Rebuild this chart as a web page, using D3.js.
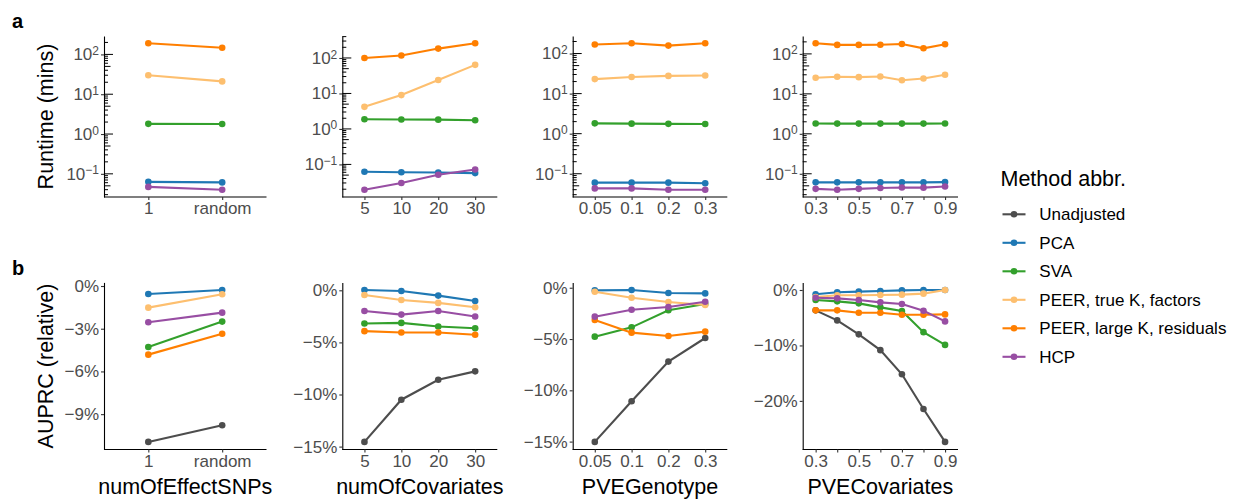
<!DOCTYPE html>
<html>
<head>
<meta charset="utf-8">
<script src="https://cdn.jsdelivr.net/npm/d3@7.9.0/dist/d3.min.js"></script>
<style>
  body { margin: 0; background: #fff; }
  svg { display: block; font-family: "Liberation Sans", Arial, sans-serif; }
</style>
</head>
<body>
<svg id="chart" width="1234" height="499"></svg>
<script>
// methods in factor order (also draw order)
const methods = ['Unadjusted', 'PCA', 'SVA', 'PEER, true K, factors', 'PEER, large K, residuals', 'HCP'];
const methodColors = ['#4d4d4d', '#1f78b4', '#33a02c', '#fdbf6f', '#ff7f00', '#984ea3'];

// x levels per panel
const effectSNPsLevels = ['1', 'random'];
const covariatesLevels = ['5', '10', '20', '30'];
const pveGenotypeLevels = ['0.05', '0.1', '0.2', '0.3'];
const pveCovariatesLevels = ['0.3', '0.4', '0.5', '0.6', '0.7', '0.8', '0.9'];
const pveCovariatesLabels = ['0.3', '', '0.5', '', '0.7', '', '0.9'];

// runtime in minutes (Unadjusted has no runtime)
const runtimeEffectSNPs = [
  null,
  [0.063, 0.061],
  [1.80, 1.78],
  [30, 21],
  [190, 147],
  [0.047, 0.040]
];
const runtimeCovariates = [
  null,
  [0.062, 0.060, 0.059, 0.057],
  [1.87, 1.85, 1.83, 1.75],
  [4.2, 9.0, 24, 64],
  [100, 117, 184, 259],
  [0.0194, 0.030, 0.051, 0.072]
];
const runtimePVEGenotype = [
  null,
  [0.060, 0.060, 0.060, 0.058],
  [1.81, 1.78, 1.76, 1.74],
  [23, 26, 27.7, 28.4],
  [168, 180, 158, 180],
  [0.043, 0.043, 0.040, 0.040]
];
const runtimePVECovariates = [
  null,
  [0.061, 0.061, 0.061, 0.061, 0.061, 0.061, 0.062],
  [1.81, 1.80, 1.80, 1.80, 1.80, 1.80, 1.81],
  [25.3, 26.8, 26.2, 27.2, 22, 24.3, 30],
  [184, 168, 168, 170, 177, 138, 174],
  [0.042, 0.040, 0.042, 0.044, 0.0455, 0.045, 0.048]
];

// relative AUPRC in percent
const auprcEffectSNPs = [
  [-10.95, -9.78],
  [-0.56, -0.28],
  [-4.28, -2.5],
  [-1.52, -0.58],
  [-4.82, -3.35],
  [-2.55, -1.87]
];
const auprcCovariates = [
  [-14.55, -10.5, -8.58, -7.78],
  [0.03, -0.07, -0.51, -1.02],
  [-3.19, -3.13, -3.48, -3.64],
  [-0.45, -0.93, -1.21, -1.63],
  [-3.92, -4.05, -4.05, -4.27],
  [-1.98, -2.33, -1.98, -2.52]
];
const auprcPVEGenotype = [
  [-15.03, -11.06, -7.2, -4.9],
  [-0.26, -0.22, -0.52, -0.55],
  [-4.77, -3.86, -2.2, -1.59],
  [-0.39, -0.97, -1.39, -1.68],
  [-3.15, -4.38, -4.7, -4.28],
  [-2.82, -2.14, -1.88, -1.36]
];
const auprcPVECovariates = [
  [-3.67, -5.48, -8.0, -10.85, -15.2, -21.46, -27.4],
  [-0.78, -0.42, -0.3, -0.18, -0.06, 0, 0],
  [-1.81, -2.05, -2.41, -3.13, -3.8, -7.6, -9.9],
  [-1.27, -0.96, -0.96, -0.9, -0.84, -0.66, 0],
  [-3.67, -3.67, -4.1, -4.1, -4.46, -4.46, -4.4],
  [-1.39, -1.51, -1.81, -2.23, -2.53, -3.74, -5.66]
];

const runtimeTicks = [0.1, 1, 10, 100];
const auprcTicks = [[0, -3, -6, -9], [0, -5, -10, -15], [0, -5, -10, -15], [0, -10, -20]];
const xTitles = ['numOfEffectSNPs', 'numOfCovariates', 'PVEGenotype', 'PVECovariates'];

// layout (pixels)
const colX = [[104, 266.5], [342.3, 497.3], [572.7, 727.3], [802.7, 958]];
const topRow = [36, 197];
const bottomRow = [282.4, 449.5];
const tickFont = 17, titleFont = 21.5;
const tickColor = '#4d4d4d';

const svg = d3.select('#chart');
const color = d3.scaleOrdinal().domain(methods).range(methodColors);

function drawPanel(levels, labels, series, xr, yr, isLog, ticks) {
  const g = svg.append('g');
  const x = d3.scalePoint().domain(levels).range(xr).padding(0.6);

  const vals = series.filter(s => s).flat();
  let y;
  if (isLog) {
    const ext = d3.extent(vals, v => Math.log10(v));
    const pad = (ext[1] - ext[0]) * 0.05;
    y = d3.scaleLog().domain([10 ** (ext[0] - pad), 10 ** (ext[1] + pad)]).range([yr[1], yr[0]]);
  } else {
    const ext = d3.extent(vals);
    const pad = (ext[1] - ext[0]) * 0.05;
    y = d3.scaleLinear().domain([ext[0] - pad, ext[1] + pad]).range([yr[1], yr[0]]);
  }

  // y axis
  const yAxis = g.append('g')
    .attr('transform', `translate(${xr[0]},0)`)
    .call(d3.axisLeft(y).tickValues(ticks).tickSize(3).tickSizeOuter(0).tickPadding(2)
      .tickFormat(d => isLog ? '10' : (d === 0 ? '0%' : '\u2212' + Math.abs(d) + '%')));
  yAxis.select('.domain').attr('stroke', '#000').attr('stroke-width', 1.1);
  yAxis.selectAll('.tick line').attr('stroke', '#333').attr('stroke-width', 1.1);
  yAxis.selectAll('.tick text')
    .attr('font-size', tickFont).attr('fill', tickColor).attr('font-family', null);
  if (isLog) {
    yAxis.selectAll('.tick text').each(function (d) {
      const e = Math.round(Math.log10(d));
      d3.select(this).append('tspan')
        .attr('dy', '-0.45em').attr('font-size', 12)
        .text(e < 0 ? '\u2212' + Math.abs(e) : String(e));
    });
    // log ticks inside the panel
    const dom = y.domain();
    const logTicks = [];
    for (let k = Math.floor(Math.log10(dom[0])); k <= Math.ceil(Math.log10(dom[1])); k++) {
      for (let m = 1; m <= 9; m++) {
        const v = m * 10 ** k;
        if (v >= dom[0] && v <= dom[1]) logTicks.push({ v, m });
      }
    }
    g.selectAll('line.logtick').data(logTicks).join('line')
      .attr('class', 'logtick')
      .attr('x1', xr[0]).attr('x2', d => xr[0] + (d.m === 1 ? 9 : d.m === 5 ? 6.5 : 4))
      .attr('y1', d => y(d.v)).attr('y2', d => y(d.v))
      .attr('stroke', '#000').attr('stroke-width', 1);
  }

  // x axis
  const xAxis = g.append('g')
    .attr('transform', `translate(0,${yr[1]})`)
    .call(d3.axisBottom(x).tickSize(3).tickSizeOuter(0).tickPadding(2)
      .tickFormat((d, i) => labels[i]));
  xAxis.select('.domain').attr('stroke', '#000').attr('stroke-width', 1.1)
    .attr('d', `M${xr[0]},0H${xr[1]}`);
  xAxis.selectAll('.tick line').attr('stroke', '#333').attr('stroke-width', 1.1);
  xAxis.selectAll('.tick text')
    .attr('font-size', tickFont).attr('fill', tickColor).attr('font-family', null);

  // lines and points
  const line = d3.line().x((d, i) => x(levels[i])).y(d => y(d));
  series.forEach((s, mi) => {
    if (!s) return;
    const c = color(methods[mi]);
    g.append('path').attr('d', line(s))
      .attr('fill', 'none').attr('stroke', c).attr('stroke-width', 2.1);
    g.selectAll(null).data(s).join('circle')
      .attr('cx', (d, i) => x(levels[i])).attr('cy', d => y(d))
      .attr('r', 3.3).attr('fill', c);
  });
}

const levelsAll = [effectSNPsLevels, covariatesLevels, pveGenotypeLevels, pveCovariatesLevels];
const labelsAll = [effectSNPsLevels, covariatesLevels, pveGenotypeLevels, pveCovariatesLabels];
const runtimeAll = [runtimeEffectSNPs, runtimeCovariates, runtimePVEGenotype, runtimePVECovariates];
const auprcAll = [auprcEffectSNPs, auprcCovariates, auprcPVEGenotype, auprcPVECovariates];

for (let p = 0; p < 4; p++) {
  drawPanel(levelsAll[p], labelsAll[p], runtimeAll[p], colX[p], topRow, true, runtimeTicks);
  drawPanel(levelsAll[p], labelsAll[p], auprcAll[p], colX[p], bottomRow, false, auprcTicks[p]);
  svg.append('text')
    .attr('x', (colX[p][0] + colX[p][1]) / 2).attr('y', 493.5)
    .attr('text-anchor', 'middle').attr('font-size', titleFont).attr('fill', '#000')
    .text(xTitles[p]);
}

// y titles
[['Runtime (mins)', topRow], ['AUPRC (relative)', bottomRow]].forEach(([t, r]) => {
  svg.append('text')
    .attr('transform', `translate(53,${(r[0] + r[1]) / 2}) rotate(-90)`)
    .attr('text-anchor', 'middle').attr('font-size', titleFont).attr('fill', '#000')
    .text(t);
});

// panel tags
svg.append('text').attr('x', 12).attr('y', 28).attr('font-size', 20).attr('font-weight', 'bold').text('a');
svg.append('text').attr('x', 12).attr('y', 275).attr('font-size', 20).attr('font-weight', 'bold').text('b');

// legend
const legend = svg.append('g');
legend.append('text').attr('x', 1000.5).attr('y', 186)
  .attr('font-size', titleFont).attr('fill', '#000').text('Method abbr.');
const items = legend.selectAll('g.item').data(methods).join('g')
  .attr('class', 'item')
  .attr('transform', (d, i) => `translate(0,${214.3 + i * 28.5})`);
items.append('line').attr('x1', 1002.5).attr('x2', 1025.5)
  .attr('stroke', d => color(d)).attr('stroke-width', 2.1);
items.append('circle').attr('cx', 1014).attr('r', 3.3).attr('fill', d => color(d));
items.append('text').attr('x', 1039.3).attr('dy', '0.35em')
  .attr('font-size', tickFont).attr('fill', '#000').text(d => d);
</script>
</body>
</html>
